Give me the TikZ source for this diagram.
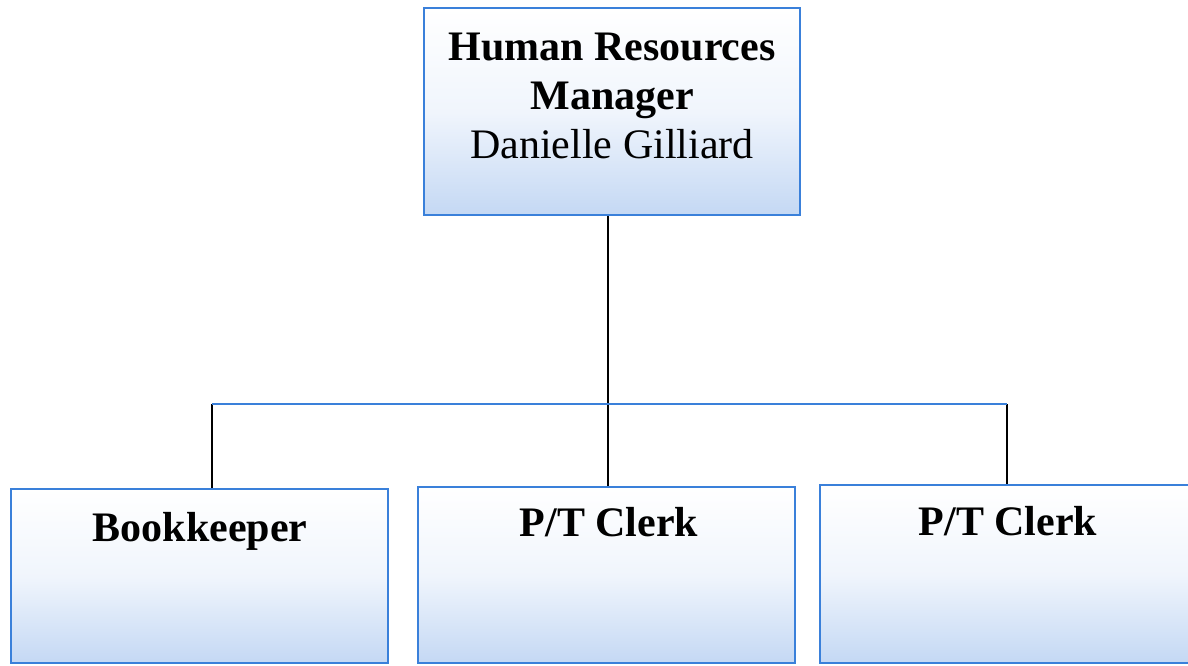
\documentclass[tikz,border=0pt]{standalone}
\usepackage{fontspec}
\setmainfont{Liberation Serif}
\definecolor{boxblue}{RGB}{58,128,218}
\definecolor{fillblue}{RGB}{196,216,244}

\begin{document}
\begin{tikzpicture}[x=0.5pt,y=0.5pt,yscale=-1,xscale=1,
  box/.style={draw=boxblue, line width=1pt, top color=white, bottom color=fillblue, middle color=white!75!fillblue, inner sep=0pt},
  title/.style={font=\bfseries\fontsize{21}{24.5}\selectfont, align=center, inner sep=0pt},
  conn/.style={line width=1pt},
  bar/.style={draw=boxblue, line width=1pt}]
\clip (0,0) rectangle (1188,665);

%Boxes
\node[box, minimum width=188pt, minimum height=103.5pt] (hr) at (612,111.5) {};
\node[box, minimum width=188.5pt, minimum height=87pt] (bk) at (199.5,576) {};
\node[box, minimum width=188.5pt, minimum height=88pt] (clerka) at (606.5,575) {};
\node[box, minimum width=190pt, minimum height=89pt] (clerkb) at (1010,574) {};

% Text Node
\node[title, anchor=north] (hrtext) at (612,33) {Human Resources\\Manager\\{\mdseries Danielle Gilliard}};
% Text Node
\node[title, anchor=base] (bktext) at (200,541) {Bookkeeper};
% Text Node
\node[title, anchor=base] (clerkatext) at (609,536) {P/T Clerk};
% Text Node
\node[title, anchor=base] (clerkbtext) at (1008,535) {P/T Clerk};

%Connectors
\coordinate (bus) at (608,404);
\coordinate (busl) at (212,404);
\coordinate (busr) at (1007,404);
\draw[conn] (bus |- hr.south) -- (bus);
\draw[conn] (busl) -- (busl |- bk.north);
\draw[conn] (bus) -- (bus |- clerka.north);
\draw[conn] (busr) -- (busr |- clerkb.north);
\draw[bar] (busl) -- (busr);

\end{tikzpicture}
\end{document}
